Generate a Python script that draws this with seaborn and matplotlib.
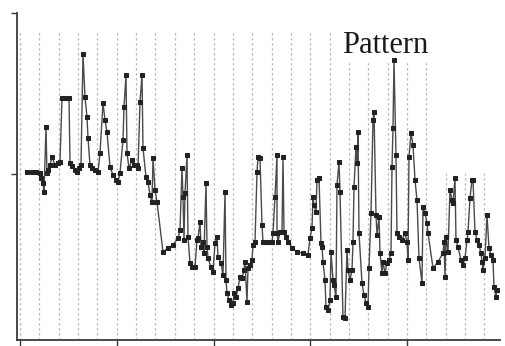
import numpy as np
import pandas as pd
import matplotlib
matplotlib.use("Agg")
import matplotlib.pyplot as plt
import seaborn as sns

# Sample positions (time ticks) and measured levels of the pattern signal
t = [
    7, 12, 16, 20, 21, 23, 24, 26, 27, 28,
    30, 32, 35, 38, 40, 42, 46, 49, 50, 52,
    55, 57, 59, 61, 63, 65, 67, 68, 70, 72,
    75, 78, 80, 83, 85, 87, 90, 93, 96, 98,
    100, 103, 104, 106, 107, 109, 112, 114, 117, 118,
    120, 122, 123, 126, 128, 130, 132, 133, 135, 137,
    143, 148, 153, 158, 160, 162, 163, 164, 165, 167,
    168, 170, 172, 175, 177, 178, 180, 181, 183, 184,
    186, 187, 188, 191, 193, 195, 197, 198, 201, 203,
    205, 206, 207, 209, 211, 213, 214, 216, 218, 220,
    222, 224, 225, 227, 228, 230, 232, 233, 235, 237,
    238, 240, 242, 243, 246, 249, 252, 253, 255, 257,
    257, 258, 260, 262, 263, 264, 266, 268, 272, 277,
    283, 288, 290, 292, 293, 294, 296, 297, 299, 301,
    302, 303, 305, 306, 308, 310, 311, 313, 314, 316,
    317, 319, 320, 323, 325, 327, 328, 330, 332, 333,
    334, 336, 337, 338, 339, 342, 344, 346, 348, 349,
    351, 353, 354, 356, 357, 359, 360, 362, 363, 365,
    367, 369, 371, 372, 373, 374, 376, 377, 379, 382,
    385, 387, 388, 389, 391, 393, 395, 397, 399, 402,
    403, 405, 407, 408, 413, 418, 423, 424, 425, 426,
    428, 430, 432, 433, 435, 436, 438, 441, 443, 445,
    447, 448, 450, 452, 453, 455, 457, 459, 461, 462,
    463, 465, 467, 469, 471, 473, 474, 476, 477,
]
level = [
    168, 168, 168, 167, 162, 157, 148, 213, 167, 170,
    175, 183, 175, 177, 178, 242, 242, 242, 177, 174,
    170, 168, 172, 175, 286, 243, 223, 202, 175, 172,
    170, 168, 187, 237, 220, 208, 173, 165, 160, 158,
    167, 200, 233, 265, 187, 172, 180, 175, 175, 172,
    238, 265, 192, 163, 158, 145, 138, 182, 150, 138,
    88, 92, 95, 102, 110, 172, 143, 100, 147, 185,
    103, 77, 73, 73, 100, 102, 118, 93, 98, 87,
    157, 93, 82, 73, 68, 97, 103, 83, 77, 65,
    148, 60, 47, 40, 35, 37, 47, 43, 52, 63,
    62, 70, 78, 38, 72, 75, 80, 95, 98, 168,
    183, 182, 115, 98, 98, 98, 98, 107, 143, 185,
    107, 98, 108, 108, 183, 108, 103, 98, 92, 88,
    87, 85, 102, 112, 143, 135, 128, 160, 162, 97,
    93, 78, 60, 33, 30, 40, 88, 60, 55, 43,
    155, 178, 148, 23, 22, 90, 70, 60, 70, 98,
    153, 193, 177, 208, 107, 57, 45, 37, 33, 72,
    127, 220, 228, 125, 105, 123, 87, 67, 78, 67,
    77, 80, 87, 173, 212, 280, 185, 107, 103, 100,
    107, 98, 80, 183, 207, 195, 160, 140, 82, 57,
    133, 127, 117, 107, 72, 78, 87, 98, 63, 103,
    88, 150, 140, 137, 162, 100, 93, 80, 75, 82,
    100, 108, 142, 160, 160, 108, 100, 95, 87, 78,
    70, 82, 125, 92, 85, 80, 53, 43, 50,
]
series_name = "Pattern"

df = pd.DataFrame({"t": t, "level": level})

sns.set_style("white")
plt.rcParams["font.family"] = ["Liberation Serif", "DejaVu Serif"]

fig = plt.figure(figsize=(5.06, 3.46), dpi=100)
ax = fig.add_axes([17 / 506, 6 / 346, 483 / 506, 327 / 346])
ax.set_xlim(-3, 480)
ax.set_ylim(0, 327)

# dashed vertical grid; lines in the upper right stop below the label area
step = 19.35
for k in range(25):
    gx = k * step
    if gx > 420:
        top = 167 / 327
    elif gx > 320:
        top = 280 / 327
    else:
        top = 310 / 327
    ax.axvline(gx, ymin=0, ymax=top, color="#b4b4b4", lw=0.9,
               ls=(0, (1.8, 2.2)), zorder=1)

sns.lineplot(data=df, x="t", y="level", sort=False, estimator=None,
             color="#4a4a4a", lw=1.0, marker="s", markersize=2.4,
             markeredgecolor="#222222", markerfacecolor="#222222",
             ax=ax, zorder=3)

ax.text(0.673, 0.878, series_name, transform=ax.transAxes,
        fontsize=22, ha="left", va="baseline", color="#1a1a1a", zorder=4)

for side in ("top", "right"):
    ax.spines[side].set_visible(False)
for side in ("left", "bottom"):
    ax.spines[side].set_color("#3a3a3a")
    ax.spines[side].set_linewidth(1.3)

ax.set_yticks([166, 327])
ax.set_xticks([0, 5 * step, 10 * step, 15 * step, 20 * step])
ax.tick_params(axis="both", direction="out", length=4, width=1.0,
               color="#3a3a3a", labelleft=False, labelbottom=False,
               left=True, bottom=True)
ax.set_xlabel("")
ax.set_ylabel("")

fig.savefig("out.png", dpi=100)
